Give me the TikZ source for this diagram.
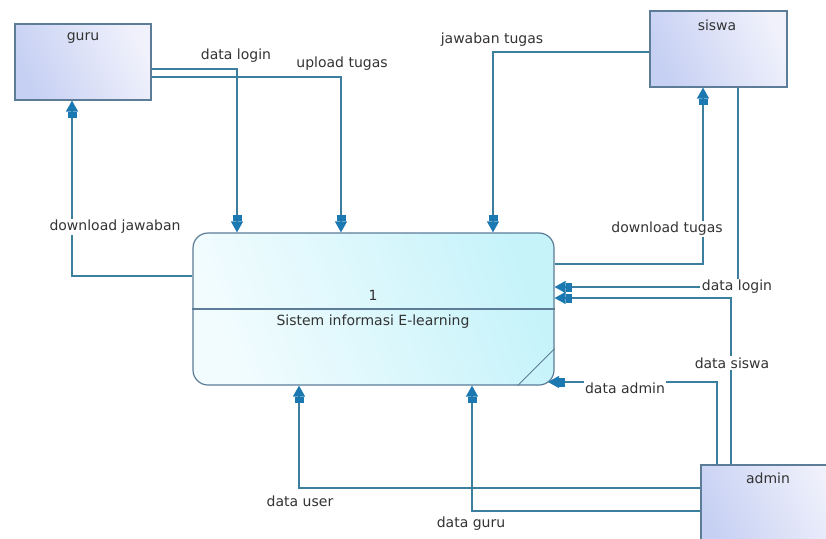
\documentclass[tikz,border=0pt]{standalone}
\usepackage{fontspec}
\setmainfont{DejaVu Sans}
\usetikzlibrary{arrows.meta}
\definecolor{flowc}{HTML}{3C7E9E}
\definecolor{tipc}{HTML}{1C78B0}
\definecolor{edgec}{HTML}{5C7C98}
\definecolor{entA}{HTML}{C6D0F3}
\definecolor{entB}{HTML}{F0F1FB}
\definecolor{procA}{HTML}{F2FCFE}
\definecolor{procB}{HTML}{C6F3FA}
\definecolor{txt}{HTML}{333333}
\begin{document}
\begin{tikzpicture}[x=1pt,y=-1pt,
  font=\fontsize{14}{16}\selectfont,
  entity/.style={draw=edgec, line width=1.2pt, left color=entA, right color=entB, shading angle=115, inner sep=0pt},
  proc/.style={draw=edgec, line width=1.2pt, rounded corners=15pt, left color=procA, right color=procB, shading angle=110, inner sep=0pt, minimum width=361pt, minimum height=152pt},
  txtn/.style={text=txt, inner sep=1pt},
  flowlbl/.style={text=txt, fill=white, inner sep=1.5pt},
  tipstyle/.tip={Rectangle[length=6pt,width=9pt,color=tipc]Triangle[length=11pt,width=12pt,color=tipc]},
  flow/.style={draw=flowc, line width=1.3pt, -tipstyle}
]
\useasboundingbox (0,0) rectangle (826,538);
\clip (0,0) rectangle (826,538);
\fill[white] (0,0) rectangle (826,538);

% entities
\node[entity, minimum width=136pt, minimum height=76pt] (guru) at (83,62) {};
\node[entity, minimum width=137pt, minimum height=76pt] (siswa) at (718.5,49) {};
\node[entity, minimum width=140pt, minimum height=90pt] (admin) at (771,510) {};
\node[txtn] (guruT) at (83,38) {guru};
\node[txtn] (siswaT) at (717,25) {siswa};
\node[txtn] (adminT) at (768,478) {admin};

% process
\node[proc] (proc) at (373.5,309) {};
\draw[edgec, line width=1.2pt] (proc.west |- 0,309) -- (proc.east |- 0,309);
\draw[edgec, line width=0.8pt] ([xshift=-37pt]proc.south east) -- ([yshift=37pt]proc.south east);
\node[txtn] (procN) at (373,295) {1};
\node[txtn] (procT) at (373,322) {Sistem informasi E-learning};
\coordinate (procC) at (548,382);

% flows
\draw[flow] (guru.east |- 0,69) -| (proc.north -| 237,0);
\draw[flow] (guru.east |- 0,77) -| (proc.north -| 341,0);
\draw[flow] (proc.west |- 0,276) -| (guru.south -| 72,0);
\draw[flow] (siswa.west |- 0,52) -| (proc.north -| 493,0);
\draw[flow] (proc.east |- 0,264) -| (siswa.south -| 703,0);
\draw[flow] (siswa.south -| 738,0) |- (proc.east |- 0,287);
\draw[flow] (admin.north -| 731,0) |- (proc.east |- 0,298);
\draw[flow] (admin.north -| 717,0) |- (procC);
\draw[flow] (admin.west |- 0,488) -| (proc.south -| 299,0);
\draw[flow] (admin.west |- 0,511) -| (proc.south -| 472,0);

% flow labels
\node[flowlbl] (l1) at (236,56) {data login};
\node[flowlbl] (l2) at (342,64) {upload tugas};
\node[flowlbl] (l3) at (115,227) {download jawaban};
\node[flowlbl] (l4) at (492,40) {jawaban tugas};
\node[flowlbl] (l5) at (667,229) {download tugas};
\node[flowlbl] (l6) at (737,287) {data login};
\node[flowlbl] (l7) at (732,363) {data siswa};
\node[flowlbl] (l8) at (625,388) {data admin};
\node[flowlbl] (l9) at (300,501) {data user};
\node[flowlbl] (l10) at (471,524) {data guru};
\end{tikzpicture}
\end{document}
